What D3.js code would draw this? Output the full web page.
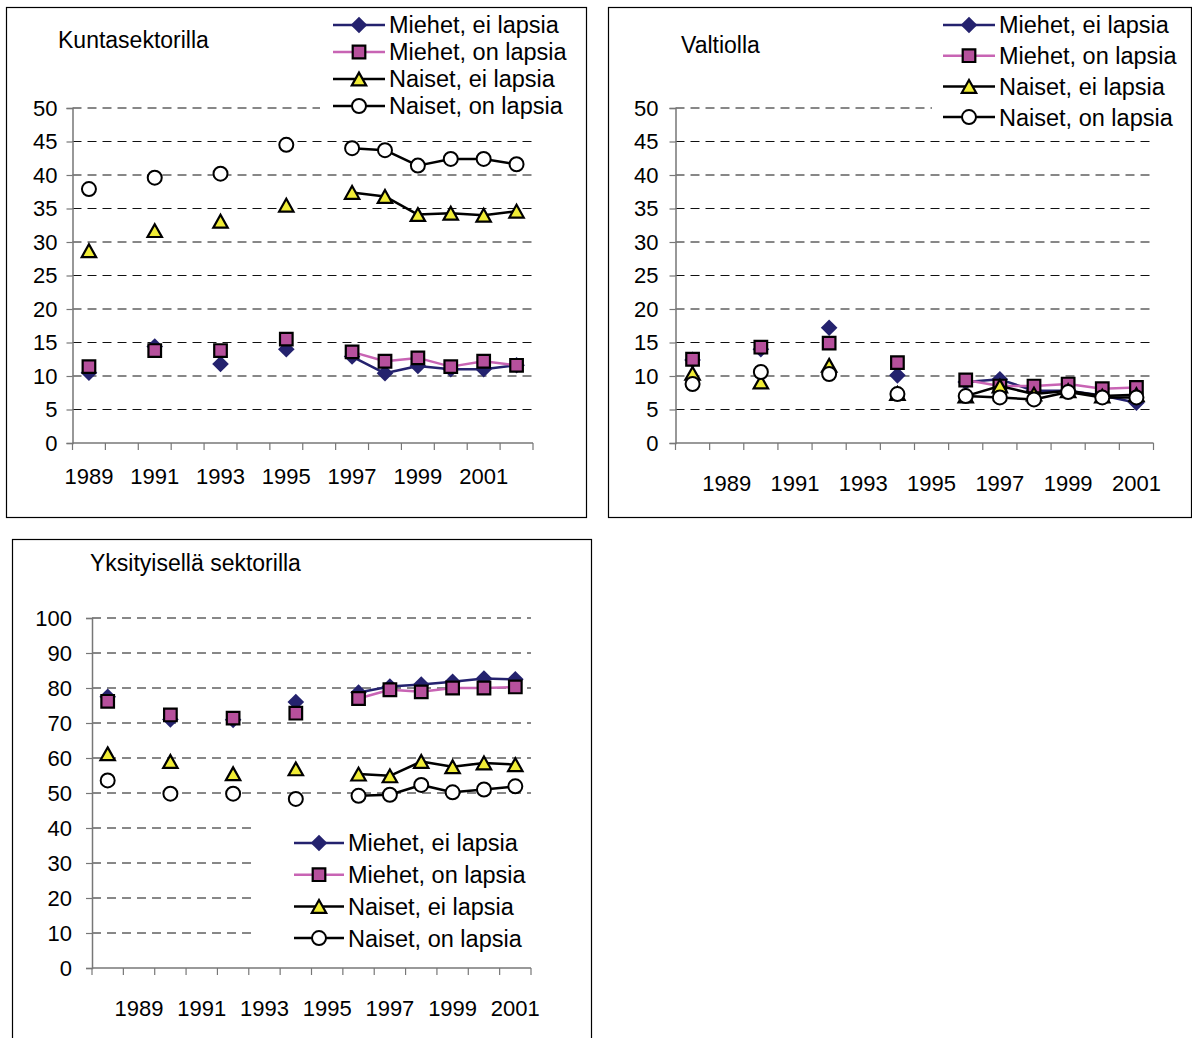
<!DOCTYPE html>
<html><head><meta charset="utf-8">
<script src="https://cdn.jsdelivr.net/npm/d3@7"></script>
<style>body{margin:0;background:#fff;}svg{display:block;font-family:"Liberation Sans",Arial,sans-serif;}</style>
</head><body>
<svg id="chart" width="1192" height="1038"></svg>
<script>
// ---------- data ----------
const seriesNames = ["Miehet, ei lapsia", "Miehet, on lapsia", "Naiset, ei lapsia", "Naiset, on lapsia"];

const yearsKunta = ["1989","1990","1991","1992","1993","1994","1995","1996","1997","1998","1999","2000","2001","2002"];
const kuntaMiehetEi = [10.5, null, 14.4, null, 11.8, null, 14.0, null, 12.9, 10.4, 11.5, 11.0, 11.0, 11.6];
const kuntaMiehetOn = [11.4, null, 13.8, null, 13.8, null, 15.5, null, 13.6, 12.2, 12.7, 11.4, 12.2, 11.6];
const kuntaNaisetEi = [28.7, null, 31.7, null, 33.1, null, 35.5, null, 37.4, 36.8, 34.1, 34.3, 34.0, 34.6];
const kuntaNaisetOn = [37.9, null, 39.6, null, 40.2, null, 44.5, null, 44.0, 43.7, 41.4, 42.4, 42.4, 41.6];

const yearsValtio = ["1988","1989","1990","1991","1992","1993","1994","1995","1996","1997","1998","1999","2000","2001"];
const valtioMiehetEi = [12.4, null, 14.0, null, 17.2, null, 10.1, null, 9.1, 9.5, 7.8, 7.8, 7.1, 6.0];
const valtioMiehetOn = [12.5, null, 14.3, null, 14.9, null, 12.0, null, 9.4, 8.5, 8.5, 8.8, 8.1, 8.3];
const valtioNaisetEi = [10.4, null, 9.1, null, 11.6, null, 7.4, null, 7.0, 8.5, 7.3, 7.8, 7.0, 7.2];
const valtioNaisetOn = [8.8, null, 10.6, null, 10.3, null, 7.3, null, 7.0, 6.8, 6.5, 7.6, 6.8, 6.8];

const yearsYks = ["1988","1989","1990","1991","1992","1993","1994","1995","1996","1997","1998","1999","2000","2001"];
const yksMiehetEi = [77.5, null, 71.0, null, 70.9, null, 76.0, null, 78.7, 80.4, 81.0, 81.8, 82.7, 82.5];
const yksMiehetOn = [76.2, null, 72.3, null, 71.4, null, 72.8, null, 77.0, 79.5, 78.9, 80.0, 80.0, 80.3];
const yksNaisetEi = [61.2, null, 59.0, null, 55.5, null, 56.9, null, 55.4, 54.9, 59.0, 57.5, 58.6, 58.1];
const yksNaisetOn = [53.6, null, 49.8, null, 49.8, null, 48.3, null, 49.2, 49.5, 52.3, 50.2, 51.0, 51.9];

const tickYearsShown = ["1989","1991","1993","1995","1997","1999","2001"];
const ticksKunta = [0,5,10,15,20,25,30,35,40,45,50];
const ticksYks = [0,10,20,30,40,50,60,70,80,90,100];

// ---------- styles ----------
const styles = [
  {line:"#24226e", lw:2.5, marker:"diamond", fill:"#24226e", stroke:"none"},
  {line:"#c864b4", lw:2.5, marker:"square", fill:"#b6509c", stroke:"#000"},
  {line:"#000", lw:2.5, marker:"triangle", fill:"#f0ec36", stroke:"#000"},
  {line:"#000", lw:2.5, marker:"circle", fill:"#fff", stroke:"#000"}
];

function markerPath(type){
  if(type==="diamond"){const r=8.3;return `M0,${-r}L${r},0L0,${r}L${-r},0Z`;}
  if(type==="square"){const s=6.3;return `M${-s},${-s}H${s}V${s}H${-s}Z`;}
  if(type==="triangle"){const w=7.2,h=6.4;return `M0,${-h}L${w},${h}L${-w},${h}Z`;}
  return "";
}

const svg = d3.select("#chart");

function drawPanel(cfg){
  const g = svg.append("g");
  g.append("rect").attr("x",cfg.frame[0]).attr("y",cfg.frame[1]).attr("width",cfg.frame[2]).attr("height",cfg.frame[3])
    .attr("fill","#fff").attr("stroke","#000").attr("stroke-width",1.2);

  const x = d3.scaleBand().domain(cfg.cats).range([cfg.x0, cfg.x1]).paddingInner(0).paddingOuter(0);
  const y = d3.scaleLinear().domain([0, cfg.yMax]).range([cfg.y1, cfg.y0]);

  // gridlines
  g.append("g").selectAll("line").data(cfg.yTicks.filter(v=>v>0)).join("line")
    .attr("x1",cfg.x0).attr("x2",cfg.x1).attr("y1",d=>y(d)).attr("y2",d=>y(d))
    .attr("stroke","#111").attr("stroke-width",1).attr("stroke-dasharray","9,6");

  // legend background (covers gridlines)
  g.append("rect").attr("x",cfg.legBg[0]).attr("y",cfg.legBg[1]).attr("width",cfg.legBg[2]).attr("height",cfg.legBg[3]).attr("fill","#fff");

  // y axis
  const yAxis = d3.axisLeft(y).tickValues(cfg.yTicks).tickSize(6).tickPadding(cfg.yPad).tickFormat(d3.format("d"));
  const ya = g.append("g").attr("transform",`translate(${cfg.x0},0)`).call(yAxis);
  ya.select(".domain").attr("stroke","#777").attr("stroke-width",1.5);
  ya.selectAll(".tick line").attr("stroke","#777").attr("stroke-width",1.2);
  ya.selectAll(".tick text").attr("font-size",22).attr("fill","#000").attr("font-family","Liberation Sans, Arial, sans-serif");

  // x axis (ticks at category boundaries)
  const xa = g.append("g").attr("transform",`translate(0,${cfg.y1})`);
  xa.append("line").attr("x1",cfg.x0).attr("x2",cfg.x1).attr("stroke","#777").attr("stroke-width",1.5);
  const bounds = cfg.cats.map(c=>x(c)).concat([x(cfg.cats[cfg.cats.length-1])+x.bandwidth()]);
  xa.selectAll("line.tk").data(bounds).join("line").attr("class","tk")
    .attr("x1",d=>d).attr("x2",d=>d).attr("y1",0).attr("y2",7).attr("stroke","#777").attr("stroke-width",1.2);
  xa.selectAll("text").data(cfg.cats.filter(c=>tickYearsShown.includes(c))).join("text")
    .attr("x",d=>x(d)+x.bandwidth()/2).attr("y",cfg.labelY - cfg.y1).attr("dy","0.36em")
    .attr("text-anchor","middle").attr("font-size",22).text(d=>d);

  // title
  g.append("text").attr("x",cfg.title[0]).attr("y",cfg.title[1]).attr("dy","0.36em").attr("font-size",23).text(cfg.title[2]);

  // series
  cfg.series.forEach((vals,i)=>{
    const st = styles[i];
    const pts = vals.map((v,j)=>({c:cfg.cats[j],v}));
    const line = d3.line().defined(d=>d.v!==null).x(d=>x(d.c)+x.bandwidth()/2).y(d=>y(d.v));
    g.append("path").attr("d",line(pts)).attr("fill","none").attr("stroke",st.line).attr("stroke-width",st.lw).attr("stroke-linejoin","round");
    const mk = g.append("g").selectAll("g").data(pts.filter(d=>d.v!==null)).join("g")
      .attr("transform",d=>`translate(${x(d.c)+x.bandwidth()/2},${y(d.v)})`);
    if(st.marker==="circle"){
      mk.append("circle").attr("r",7).attr("fill",st.fill).attr("stroke",st.stroke).attr("stroke-width",2);
    } else {
      mk.append("path").attr("d",markerPath(st.marker)).attr("fill",st.fill).attr("stroke",st.stroke).attr("stroke-width",2.2);
    }
  });

  // legend
  const lg = g.append("g");
  seriesNames.forEach((name,i)=>{
    const st = styles[i];
    const ly = cfg.leg.y + i*cfg.leg.dy;
    lg.append("line").attr("x1",cfg.leg.x).attr("x2",cfg.leg.x+cfg.leg.len).attr("y1",ly).attr("y2",ly)
      .attr("stroke",st.line).attr("stroke-width",2.5);
    const cx = cfg.leg.x+cfg.leg.len/2;
    if(st.marker==="circle"){
      lg.append("circle").attr("cx",cx).attr("cy",ly).attr("r",7).attr("fill",st.fill).attr("stroke",st.stroke).attr("stroke-width",2);
    } else {
      lg.append("path").attr("transform",`translate(${cx},${ly})`).attr("d",markerPath(st.marker))
        .attr("fill",st.fill).attr("stroke",st.stroke).attr("stroke-width",2.2);
    }
    lg.append("text").attr("x",cfg.leg.x+cfg.leg.len+4).attr("y",ly).attr("dy","0.36em").attr("font-size",23.5).text(name);
  });
}

drawPanel({
  frame:[6.5,7.5,580,510], x0:72.5, x1:533, y0:108, y1:443, yMax:50, yTicks:ticksKunta, yPad:9,
  cats:yearsKunta, labelY:476, title:[58,39.5,"Kuntasektorilla"],
  series:[kuntaMiehetEi,kuntaMiehetOn,kuntaNaisetEi,kuntaNaisetOn],
  leg:{x:333,y:25,dy:27,len:52}, legBg:[320,10,255,110]
});
drawPanel({
  frame:[608.5,7.5,583,510], x0:675.5, x1:1153.5, y0:108, y1:443, yMax:50, yTicks:ticksKunta, yPad:11,
  cats:yearsValtio, labelY:483, title:[681,44.5,"Valtiolla"],
  series:[valtioMiehetEi,valtioMiehetOn,valtioNaisetEi,valtioNaisetOn],
  leg:{x:943,y:25,dy:30.7,len:52}, legBg:[932,10,255,122]
});
drawPanel({
  frame:[12.5,539.5,579,520], x0:92, x1:531, y0:618, y1:968, yMax:100, yTicks:ticksYks, yPad:14,
  cats:yearsYks, labelY:1008, title:[90,563,"Yksityisellä sektorilla"],
  series:[yksMiehetEi,yksMiehetOn,yksNaisetEi,yksNaisetOn],
  leg:{x:294,y:843,dy:31.7,len:50}, legBg:[255,812,276,146]
});
</script>
</body></html>
